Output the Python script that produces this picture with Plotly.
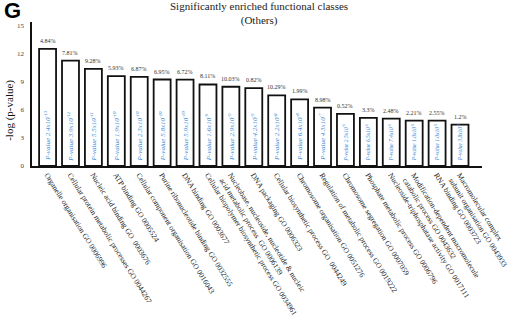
import plotly.graph_objects as go

categories = [
    "Organelle organisation GO 0006996",
    "Cellular protein metabolic processes GO 0044267",
    "Nucleic acid binding GO  0003676",
    "ATP binding GO 0005524",
    "Cellular component organisation GO 0016043",
    "Purine ribonucleotide binding GO 0032555",
    "DNA binding GO 0003677",
    "Cellular biopolymer biosynthetic process GO 0034961",
    "Nucleobase, nucleoside, nucleotide & nucleic<br>acid metabolic process  GO 0006139",
    "DNA packaging GO 0006323",
    "Cellular biosynthetic process GO  0044249",
    "Chromosome organisation GO 0051276",
    "Regulation of metabolic process GO 0019222",
    "Chromosome segregation GO 0007059",
    "Phosphate metabolic process GO 0006796",
    "Nucleoside-triphosphatase activity GO 0017111",
    "Modification-dependent macromolecule<br>catabolic process GO 0043632",
    "RNA binding GO 0003723",
    "Macromolecular complex<br>subunit organisation GO 0043933",
]
neg_log_p = [12.48, 11.24, 10.36, 9.58, 9.51, 9.22, 9.2, 8.69, 8.45, 8.3,
             7.53, 7.1, 6.22, 5.55, 5.12, 5.05, 4.84, 4.84, 4.42]
percent_labels = ["4.84%", "7.81%", "9.28%", "5.93%", "6.87%", "6.95%", "6.72%",
                  "8.11%", "10.03%", "0.82%", "10.29%", "1.99%", "8.98%", "0.52%",
                  "3.3%", "2.48%", "2.21%", "2.55%", "1.2%"]
p_mant = ["2.4", "3.9", "5.5", "1.9", "2.3", "5.8", "5.9", "1.6", "2.9", "4.2",
          "2.2", "6.4", "4.3", "2.5", "6.5", "7.4", "1.0", "1.0", "3.8"]
p_exp = ["-13", "-12", "-11", "-10", "-10", "-10", "-10", "-9", "-9", "-9",
         "-8", "-8", "-7", "-6", "-6", "-6", "-5", "-5", "-5"]
y_ticks = [0, 3, 6, 9, 12, 15]

SERIF = "Liberation Serif, Times New Roman, serif"
xs = list(range(len(categories)))

fig = go.Figure()
fig.add_trace(go.Bar(
    x=xs, y=neg_log_p, width=0.74,
    marker=dict(color="white", line=dict(color="#111111", width=1.8)),
    hoverinfo="skip",
))

ann = []
for i, (v, pl, m, e) in enumerate(zip(neg_log_p, percent_labels, p_mant, p_exp)):
    ann.append(dict(x=i, y=v, xref="x", yref="y", text=pl, showarrow=False,
                    yanchor="bottom", yshift=3,
                    font=dict(family=SERIF, size=6, color="#333333")))
    small = i >= 13
    ann.append(dict(x=i, y=0.3, xref="x", yref="y",
                    text=f"<i>P-value {m}x10<sup>{e}</sup></i>",
                    showarrow=False, textangle=-90, yanchor="bottom",
                    font=dict(family=SERIF, size=5.5 if small else 7, color="#3a8ad6")))

ann += [
    dict(x=0.505, y=1.06, xref="paper", yref="paper", xanchor="center", yanchor="middle",
         text="Significantly enriched functional classes<br>(Others)", showarrow=False,
         font=dict(family=SERIF, size=11, color="#222222")),
    dict(x=-0.049, y=0.39, xref="paper", yref="paper", xanchor="center", yanchor="middle",
         text="-log (p-value)", showarrow=False, textangle=-90,
         font=dict(family=SERIF, size=11, color="#111111")),
    dict(x=-0.066, y=1.078, xref="paper", yref="paper", xanchor="left", yanchor="middle",
         text="<b>G</b>", showarrow=False,
         font=dict(family="Liberation Sans, Arial, sans-serif", size=22, color="#000000")),
]

fig.update_layout(
    width=520, height=320,
    margin=dict(l=32, r=38, t=22, b=154),
    paper_bgcolor="white", plot_bgcolor="white",
    showlegend=False,
    bargap=0.26,
    xaxis=dict(range=[-0.68, 18.96], tickmode="array", tickvals=xs, ticktext=categories,
               tickangle=58, showline=True, linecolor="#111111", linewidth=1.6,
               ticks="", showgrid=False, zeroline=False, automargin=False,
               tickfont=dict(family=SERIF, size=7.6, color="#222222")),
    yaxis=dict(range=[0, 15.35], tickmode="array", tickvals=y_ticks,
               showline=True, linecolor="#111111", linewidth=1.6,
               ticks="", showgrid=False, zeroline=False, automargin=False,
               ticklabelstandoff=5,
               tickfont=dict(family=SERIF, size=7, color="#444444")),
    annotations=ann,
)
fig.write_html("out.html", config={"displayModeBar": False, "staticPlot": True},
               post_script="document.body.style.margin='0';document.body.style.overflow='hidden';")
